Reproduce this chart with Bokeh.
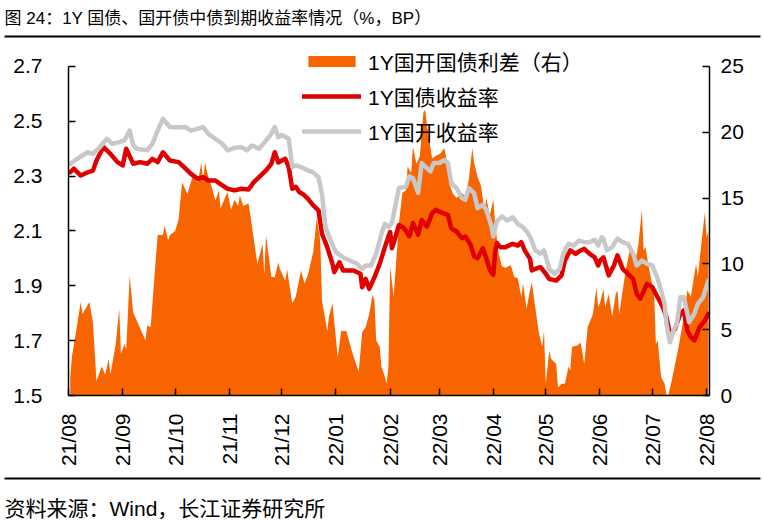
import math
import pandas as pd
from bokeh.plotting import figure
from bokeh.models import (ColumnDataSource, Range1d, LinearAxis, FixedTicker,
                          DatetimeTickFormatter, PrintfTickFormatter, Legend, LegendItem)
from bokeh.core.properties import value
from bokeh.embed import file_html
from bokeh.resources import INLINE

# ---------------- data ----------------
title_text = "图 24：1Y 国债、国开债中债到期收益率情况（%，BP）"
source_text = "资料来源：Wind，长江证券研究所"
series_names = ["1Y国开国债利差（右）", "1Y国债收益率", "1Y国开收益率"]

month_starts = ["2021-08-01", "2021-09-01", "2021-10-01", "2021-11-01", "2021-12-01",
                "2022-01-01", "2022-02-01", "2022-03-01", "2022-04-01", "2022-05-01",
                "2022-06-01", "2022-07-01", "2022-08-01"]
left_ticks = [1.5, 1.7, 1.9, 2.1, 2.3, 2.5, 2.7]
right_ticks = [0, 5, 10, 15, 20, 25]

spread_dates = [
    "2021-08-02", "2021-08-03", "2021-08-05", "2021-08-08", "2021-08-09", "2021-08-13",
    "2021-08-15", "2021-08-17", "2021-08-20", "2021-08-22", "2021-08-24", "2021-08-25",
    "2021-08-28", "2021-08-30", "2021-08-31", "2021-09-02", "2021-09-03", "2021-09-05",
    "2021-09-07", "2021-09-14", "2021-09-15", "2021-09-17", "2021-09-20", "2021-09-21",
    "2021-09-24", "2021-09-25", "2021-09-27", "2021-09-28", "2021-10-01", "2021-10-03",
    "2021-10-05", "2021-10-08", "2021-10-10", "2021-10-11", "2021-10-14", "2021-10-16",
    "2021-10-17", "2021-10-18", "2021-10-20", "2021-10-22", "2021-10-24", "2021-10-26",
    "2021-10-27", "2021-10-30", "2021-10-31", "2021-11-02", "2021-11-04", "2021-11-06",
    "2021-11-07", "2021-11-09", "2021-11-12", "2021-11-14", "2021-11-17", "2021-11-20",
    "2021-11-21", "2021-11-22", "2021-11-25", "2021-11-27", "2021-11-29", "2021-11-30",
    "2021-12-02", "2021-12-03", "2021-12-04", "2021-12-07", "2021-12-09", "2021-12-12",
    "2021-12-14", "2021-12-16", "2021-12-19", "2021-12-21", "2021-12-23", "2021-12-24",
    "2021-12-27", "2021-12-28", "2021-12-30", "2022-01-02", "2022-01-04", "2022-01-07",
    "2022-01-10", "2022-01-14", "2022-01-16", "2022-01-18", "2022-01-20", "2022-01-22",
    "2022-01-23", "2022-01-24", "2022-01-26", "2022-01-27", "2022-01-29", "2022-01-30",
    "2022-01-31", "2022-02-01", "2022-02-03", "2022-02-06", "2022-02-08", "2022-02-10",
    "2022-02-11", "2022-02-13", "2022-02-14", "2022-02-16", "2022-02-18", "2022-02-19",
    "2022-02-20", "2022-02-21", "2022-02-22", "2022-02-24", "2022-02-25", "2022-02-27",
    "2022-03-02", "2022-03-04", "2022-03-06", "2022-03-07", "2022-03-09", "2022-03-11",
    "2022-03-14", "2022-03-16", "2022-03-18", "2022-03-20", "2022-03-21", "2022-03-23",
    "2022-03-25", "2022-03-27", "2022-03-28", "2022-03-30", "2022-04-01", "2022-04-02",
    "2022-04-04", "2022-04-06", "2022-04-08", "2022-04-11", "2022-04-13", "2022-04-15",
    "2022-04-17", "2022-04-18", "2022-04-20", "2022-04-22", "2022-04-23", "2022-04-25",
    "2022-04-27", "2022-04-29", "2022-04-30", "2022-05-01", "2022-05-03", "2022-05-04",
    "2022-05-07", "2022-05-08", "2022-05-10", "2022-05-12", "2022-05-14", "2022-05-15",
    "2022-05-16", "2022-05-19", "2022-05-21", "2022-05-23", "2022-05-25", "2022-05-28",
    "2022-05-30", "2022-05-31", "2022-06-01", "2022-06-03", "2022-06-04", "2022-06-06",
    "2022-06-08", "2022-06-10", "2022-06-11", "2022-06-12", "2022-06-14", "2022-06-16",
    "2022-06-18", "2022-06-20", "2022-06-21", "2022-06-23", "2022-06-25", "2022-06-26",
    "2022-06-27", "2022-06-29", "2022-07-02", "2022-07-03", "2022-07-04", "2022-07-06",
    "2022-07-08", "2022-07-09", "2022-07-10", "2022-07-12", "2022-07-14", "2022-07-16",
    "2022-07-19", "2022-07-21", "2022-07-23", "2022-07-25", "2022-07-26", "2022-07-27",
    "2022-07-29", "2022-07-31", "2022-08-01", "2022-08-02"]
spread_bp = [
    1.4, 3.0, 4.6, 7.1, 6.2, 7.1,
    5.5, 1.1, 2.2, 1.6, 2.8, 1.6,
    3.9, 6.6, 3.2, 3.9, 3.5, 9.1,
    6.3, 4.2, 5.3, 5.2, 10.5, 12.2,
    12.2, 12.9, 11.8, 12.2, 12.5, 13.4,
    16.2, 15.3, 16.2, 16.6, 16.2, 17.7,
    16.2, 17.7, 16.6, 15.8, 14.8, 15.6,
    14.2, 15.2, 15.4, 14.1, 14.9, 14.4,
    15.2, 14.4, 14.6, 12.8, 10.0, 11.5,
    9.2, 12.2, 9.0, 9.0, 10.1, 9.6,
    9.0, 8.7, 9.6, 7.0, 7.5, 9.5,
    8.5, 9.2, 10.9, 13.5, 11.8, 7.2,
    4.9, 6.0, 7.0, 2.9, 4.9, 4.9,
    3.4, 1.8, 4.8, 5.2, 6.2, 7.7,
    7.2, 4.2, 3.7, 2.2, 1.4, 0.9,
    2.2, 9.8, 7.5, 13.1, 15.4, 15.6,
    17.4, 16.9, 18.9, 17.6, 18.2, 19.9,
    21.5, 21.7, 20.6, 18.9, 18.0, 18.2,
    18.4, 18.8, 17.4, 16.0, 15.3, 15.0,
    15.4, 15.1, 16.4, 18.8, 17.7, 16.6,
    15.9, 14.1, 15.0, 13.7, 14.9, 13.1,
    10.8, 9.8, 9.7, 9.9, 9.0, 8.9,
    7.5, 8.5, 6.6, 8.0, 8.6, 6.7,
    4.8, 3.7, 4.9, 0.9, 3.4, 2.8,
    2.4, 0.6, 0.9, 0.9, 2.2, 1.9,
    3.7, 3.8, 4.0, 2.4, 5.2, 6.2,
    8.2, 6.7, 7.0, 8.1, 6.7, 7.7,
    6.0, 7.7, 8.0, 6.2, 8.0, 9.7,
    11.0, 10.8, 10.0, 11.5, 14.1, 11.0,
    11.3, 9.7, 7.7, 3.9, 4.2, 1.4,
    0.9, 0.1, 0.0, 1.1, 2.4, 3.7,
    6.0, 8.0, 7.5, 9.2, 10.0, 9.0,
    11.5, 13.9, 12.0, 12.5]

cgb_dates = [
    "2021-08-02", "2021-08-04", "2021-08-08", "2021-08-12", "2021-08-15", "2021-08-17",
    "2021-08-21", "2021-08-25", "2021-08-29", "2021-09-01", "2021-09-03", "2021-09-07",
    "2021-09-11", "2021-09-15", "2021-09-18", "2021-09-21", "2021-09-24", "2021-09-28",
    "2021-10-03", "2021-10-07", "2021-10-10", "2021-10-14", "2021-10-17", "2021-10-20",
    "2021-10-24", "2021-10-28", "2021-10-31", "2021-11-04", "2021-11-08", "2021-11-12",
    "2021-11-15", "2021-11-18", "2021-11-22", "2021-11-25", "2021-11-27", "2021-11-29",
    "2021-12-01", "2021-12-03", "2021-12-05", "2021-12-07", "2021-12-09", "2021-12-11",
    "2021-12-13", "2021-12-16", "2021-12-19", "2021-12-22", "2021-12-24", "2021-12-27",
    "2021-12-30", "2021-12-31", "2022-01-03", "2022-01-05", "2022-01-11", "2022-01-15",
    "2022-01-16", "2022-01-18", "2022-01-20", "2022-01-23", "2022-01-26", "2022-01-29",
    "2022-01-31", "2022-02-01", "2022-02-02", "2022-02-03", "2022-02-06", "2022-02-09",
    "2022-02-12", "2022-02-14", "2022-02-17", "2022-02-19", "2022-02-22", "2022-02-25",
    "2022-02-27", "2022-03-03", "2022-03-06", "2022-03-08", "2022-03-11", "2022-03-14",
    "2022-03-16", "2022-03-19", "2022-03-21", "2022-03-23", "2022-03-26", "2022-03-28",
    "2022-03-30", "2022-04-01", "2022-04-02", "2022-04-03", "2022-04-05", "2022-04-08",
    "2022-04-12", "2022-04-15", "2022-04-17", "2022-04-19", "2022-04-22", "2022-04-23",
    "2022-04-25", "2022-04-28", "2022-05-01", "2022-05-03", "2022-05-07", "2022-05-10",
    "2022-05-12", "2022-05-15", "2022-05-18", "2022-05-21", "2022-05-23", "2022-05-26",
    "2022-05-29", "2022-05-31", "2022-06-01", "2022-06-03", "2022-06-06", "2022-06-09",
    "2022-06-11", "2022-06-14", "2022-06-17", "2022-06-20", "2022-06-22", "2022-06-24",
    "2022-06-28", "2022-07-01", "2022-07-04", "2022-07-07", "2022-07-09", "2022-07-11",
    "2022-07-14", "2022-07-17", "2022-07-19", "2022-07-21", "2022-07-23", "2022-07-25",
    "2022-07-28", "2022-07-31", "2022-08-02"]
cgb_yield = [
    2.314, 2.327, 2.302, 2.314, 2.320, 2.357,
    2.406, 2.381, 2.351, 2.339, 2.400, 2.345,
    2.351, 2.345, 2.363, 2.351, 2.387, 2.357,
    2.351, 2.327, 2.308, 2.290, 2.296, 2.284,
    2.284, 2.266, 2.254, 2.248, 2.254, 2.251,
    2.278, 2.296, 2.321, 2.345, 2.387, 2.350,
    2.357, 2.363, 2.333, 2.254, 2.261, 2.242,
    2.235, 2.217, 2.193, 2.175, 2.090, 2.041,
    1.980, 1.950, 1.986, 1.956, 1.956, 1.944,
    1.895, 1.925, 1.889, 1.931, 1.980, 2.041,
    2.080, 2.096, 2.037, 2.056, 2.122, 2.110,
    2.080, 2.129, 2.086, 2.140, 2.116, 2.165,
    2.177, 2.165, 2.159, 2.110, 2.098, 2.074,
    2.080, 2.050, 2.007, 2.001, 2.037, 2.001,
    1.958, 1.940, 2.019, 2.056, 2.041, 2.041,
    2.053, 2.047, 2.059, 2.029, 1.998, 1.956,
    1.962, 1.968, 1.944, 1.925, 1.919, 1.938,
    1.992, 2.029, 2.017, 2.029, 2.035, 2.017,
    2.004, 1.974, 1.992, 2.004, 1.938, 1.974,
    2.011, 1.962, 1.944, 1.925, 1.871, 1.853,
    1.907, 1.895, 1.858, 1.822, 1.786, 1.725,
    1.743, 1.798, 1.810, 1.737, 1.713, 1.701,
    1.749, 1.773, 1.798]

cdb_dates = [
    "2021-08-02", "2021-08-06", "2021-08-12", "2021-08-15", "2021-08-19", "2021-08-23",
    "2021-08-26", "2021-08-30", "2021-09-02", "2021-09-05", "2021-09-07", "2021-09-09",
    "2021-09-15", "2021-09-18", "2021-09-21", "2021-09-24", "2021-09-28", "2021-10-03",
    "2021-10-07", "2021-10-10", "2021-10-14", "2021-10-17", "2021-10-20", "2021-10-24",
    "2021-10-28", "2021-10-31", "2021-11-04", "2021-11-08", "2021-11-11", "2021-11-14",
    "2021-11-18", "2021-11-22", "2021-11-25", "2021-11-27", "2021-11-29", "2021-12-01",
    "2021-12-05", "2021-12-07", "2021-12-09", "2021-12-12", "2021-12-16", "2021-12-19",
    "2021-12-22", "2021-12-24", "2021-12-26", "2021-12-29", "2022-01-01", "2022-01-05",
    "2022-01-09", "2022-01-13", "2022-01-16", "2022-01-18", "2022-01-21", "2022-01-24",
    "2022-01-27", "2022-01-29", "2022-01-31", "2022-02-02", "2022-02-06", "2022-02-10",
    "2022-02-12", "2022-02-14", "2022-02-17", "2022-02-19", "2022-02-21", "2022-02-24",
    "2022-02-26", "2022-03-01", "2022-03-04", "2022-03-06", "2022-03-08", "2022-03-11",
    "2022-03-14", "2022-03-16", "2022-03-18", "2022-03-21", "2022-03-23", "2022-03-26",
    "2022-03-28", "2022-03-31", "2022-04-01", "2022-04-03", "2022-04-06", "2022-04-09",
    "2022-04-12", "2022-04-15", "2022-04-18", "2022-04-21", "2022-04-23", "2022-04-25",
    "2022-04-28", "2022-04-30", "2022-05-03", "2022-05-06", "2022-05-09", "2022-05-11",
    "2022-05-14", "2022-05-17", "2022-05-20", "2022-05-23", "2022-05-26", "2022-05-29",
    "2022-05-31", "2022-06-02", "2022-06-03", "2022-06-05", "2022-06-08", "2022-06-11",
    "2022-06-14", "2022-06-17", "2022-06-20", "2022-06-22", "2022-06-25", "2022-06-28",
    "2022-07-01", "2022-07-04", "2022-07-06", "2022-07-08", "2022-07-09", "2022-07-11",
    "2022-07-13", "2022-07-15", "2022-07-17", "2022-07-19", "2022-07-21", "2022-07-22",
    "2022-07-25", "2022-07-27", "2022-07-30", "2022-08-02"]
cdb_yield = [
    2.345, 2.363, 2.387, 2.381, 2.406, 2.436,
    2.418, 2.424, 2.430, 2.466, 2.412, 2.400,
    2.394, 2.418, 2.466, 2.509, 2.479, 2.478,
    2.479, 2.466, 2.473, 2.479, 2.454, 2.436,
    2.418, 2.394, 2.403, 2.406, 2.394, 2.412,
    2.400, 2.430, 2.454, 2.479, 2.442, 2.450,
    2.436, 2.333, 2.339, 2.333, 2.321, 2.314,
    2.296, 2.235, 2.114, 2.065, 2.023, 2.004,
    1.992, 1.980, 1.962, 1.974, 1.974, 2.017,
    2.090, 2.126, 2.115, 2.129, 2.256, 2.262,
    2.299, 2.293, 2.239, 2.348, 2.335, 2.317,
    2.348, 2.348, 2.359, 2.348, 2.274, 2.256,
    2.220, 2.214, 2.256, 2.238, 2.183, 2.195,
    2.177, 2.116, 2.080, 2.135, 2.153, 2.138,
    2.150, 2.126, 2.114, 2.090, 2.065, 2.029,
    2.017, 2.029, 1.962, 1.944, 1.962, 2.017,
    2.053, 2.047, 2.065, 2.059, 2.059, 2.068,
    2.047, 2.077, 2.072, 2.029, 2.041, 2.072,
    2.059, 2.053, 2.017, 1.974, 1.992, 1.980,
    1.974, 1.925, 1.883, 1.834, 1.761, 1.694,
    1.737, 1.761, 1.858, 1.858, 1.798, 1.767,
    1.798, 1.834, 1.858, 1.919]

# ---------------- style ----------------
FONT = "Liberation Sans, Noto Sans CJK SC"
ORANGE = "#F86400"
RED = "#E00000"
GREY = "#C8C8C8"
W = 763
HEAD = 0.08  # extra room above 2.7 for the legend (axis lines stop at 2.7 / 25)


def strip(height):
    f = figure(width=W, height=height, x_range=Range1d(0, W), y_range=Range1d(0, height),
               output_backend="svg", toolbar_location=None, min_border=0,
               x_axis_location=None, y_axis_location=None, outline_line_color=None)
    f.grid.visible = False
    return f


# ---------------- title strip ----------------
top = strip(40)
top.text(x=[4], y=[22], text=[title_text], text_font=value(FONT), text_font_size="17px",
         text_baseline="middle", text_align="left", text_color="black")
top.segment(x0=[4], y0=[4], x1=[760], y1=[4], line_color="black", line_width=2)

# ---------------- main chart ----------------
x_start = pd.Timestamp(month_starts[0])
x_end = pd.Timestamp(month_starts[-1]) + pd.Timedelta(hours=40)
y_lo, y_hi = left_ticks[0], left_ticks[-1]
bp_hi = right_ticks[-1] * (y_hi + HEAD - y_lo) / (y_hi - y_lo)
p = figure(width=W, height=432, x_axis_type="datetime",
           x_range=Range1d(x_start, x_end), y_range=Range1d(y_lo, y_hi + HEAD),
           output_backend="svg", toolbar_location=None,
           min_border_left=68, min_border_right=54, min_border_top=4, min_border_bottom=77)
p.extra_y_ranges = {"bp": Range1d(right_ticks[0], bp_hi)}
p.grid.visible = False
p.outline_line_color = None

src_s = ColumnDataSource(dict(date=pd.to_datetime(spread_dates), bp=spread_bp))
src_g = ColumnDataSource(dict(date=pd.to_datetime(cgb_dates), y=cgb_yield))
src_c = ColumnDataSource(dict(date=pd.to_datetime(cdb_dates), y=cdb_yield))

r_area = p.varea(x="date", y1=0, y2="bp", source=src_s, y_range_name="bp",
                 fill_color=ORANGE, fill_alpha=1.0)
r_red = p.line(x="date", y="y", source=src_g, line_color=RED, line_width=4.5,
               line_join="round", line_cap="round")
r_grey = p.line(x="date", y="y", source=src_c, line_color=GREY, line_width=4.5,
                line_join="round", line_cap="round")

ax_r = LinearAxis(y_range_name="bp", ticker=FixedTicker(ticks=right_ticks),
                  bounds=(right_ticks[0], right_ticks[-1]))
p.add_layout(ax_r, "right")

p.yaxis[0].ticker = FixedTicker(ticks=left_ticks)
p.yaxis[0].formatter = PrintfTickFormatter(format="%.1f")
p.yaxis[0].bounds = (y_lo, y_hi)
tick_ms = [pd.Timestamp(m).timestamp() * 1000 for m in month_starts]
p.xaxis.ticker = FixedTicker(ticks=tick_ms)
p.xaxis.formatter = DatetimeTickFormatter(days="%y/%m", months="%y/%m", years="%y/%m",
                                          hours="%y/%m", hourmin="%y/%m")
p.xaxis.major_label_orientation = math.pi / 2

for ax in p.xaxis + p.yaxis:
    ax.axis_line_color = "black"
    ax.axis_line_width = 1.5
    ax.major_tick_line_color = "black"
    ax.major_tick_line_width = 1.5
    ax.major_tick_in = 7
    ax.major_tick_out = 0
    ax.minor_tick_line_color = None
    ax.major_label_text_font = FONT
    ax.major_label_text_font_size = "21px"
    ax.major_label_text_color = "black"
p.yaxis[0].major_label_standoff = 26
ax_r.major_label_standoff = 11
p.xaxis.major_label_standoff = 18

legend = Legend(items=[LegendItem(label=series_names[0], renderers=[r_area]),
                       LegendItem(label=series_names[1], renderers=[r_red]),
                       LegendItem(label=series_names[2], renderers=[r_grey])],
                location=(234, 249), orientation="vertical",
                border_line_color=None, background_fill_alpha=0.0,
                padding=0, margin=0, spacing=5,
                glyph_width=59, glyph_height=14, label_height=22, label_standoff=7,
                label_text_font=FONT, label_text_font_size="21px",
                label_text_color="black")
p.add_layout(legend, "center")

# ---------------- source strip ----------------
foot = strip(49)
foot.segment(x0=[4], y0=[43], x1=[760], y1=[43], line_color="black", line_width=2)
foot.text(x=[4], y=[13], text=[source_text], text_font=value(FONT), text_font_size="21px",
          text_baseline="middle", text_align="left", text_color="black")

open("out.html", "w").write(file_html([top, p, foot], INLINE))
